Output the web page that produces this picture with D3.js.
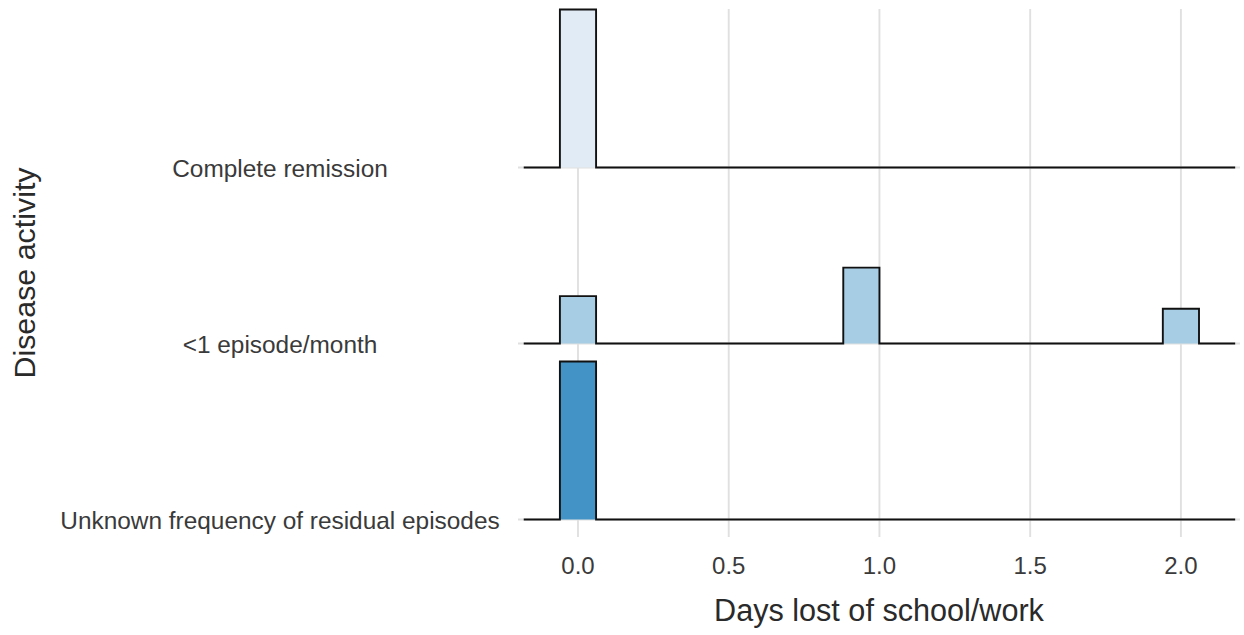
<!DOCTYPE html>
<html>
<head>
<meta charset="utf-8">
<script src="https://cdn.jsdelivr.net/npm/d3@7"></script>
<style>
  html, body { margin: 0; padding: 0; background: #fff; }
  svg { display: block; font-family: "Liberation Sans", Arial, Helvetica, sans-serif; }
</style>
</head>
<body>
<svg id="chart" width="1244" height="635"></svg>
<script>
// Disease activity groups, top to bottom
const categories = ["Complete remission", "<1 episode/month", "Unknown frequency of residual episodes"];
const fills = ["#e1ebf6", "#a6cde3", "#4493c6"];

// Histogram bins per group: bin start, bin end, share of the group
const binStart = [[-0.06], [-0.06, 0.88, 1.94], [-0.06]];
const binEnd   = [[0.06],  [0.06, 1.00, 2.06],  [0.06]];
const binShare = [[1.0],   [0.30, 0.48, 0.22],  [1.0]];

// Padded extent of the binned outline
const outlineRange = [-0.18, 2.18];

const xTicks = [0, 0.5, 1, 1.5, 2];
const xTitle = "Days lost of school/work";
const yTitle = "Disease activity";

const svg = d3.select("#chart");
const panel = { left: 518, right: 1240, top: 9, bottom: 537 };

const x = d3.scaleLinear().domain([-0.199, 2.196]).range([panel.left, panel.right]);
const y = d3.scalePoint().domain(categories).range([167.5, 519.5]);
const h = d3.scaleLinear().domain([0, 1]).range([0, 158]);

// vertical grid
svg.append("g").selectAll("line").data(xTicks).join("line")
  .attr("x1", d => x(d)).attr("x2", d => x(d))
  .attr("y1", panel.top).attr("y2", panel.bottom)
  .attr("stroke", "#e0e0e0").attr("stroke-width", 1.9);

// horizontal grid at each baseline
svg.append("g").selectAll("line").data(categories).join("line")
  .attr("x1", panel.left).attr("x2", panel.right)
  .attr("y1", d => y(d)).attr("y2", d => y(d))
  .attr("stroke", "#e0e0e0").attr("stroke-width", 1.9);

// ridges: drawn from the top row down so lower rows sit in front
categories.forEach((cat, i) => {
  const base = y(cat);
  const bins = binStart[i].map((s, j) => ({ x0: s, x1: binEnd[i][j], v: binShare[i][j] }));
  const g = svg.append("g");

  g.selectAll("rect").data(bins).join("rect")
    .attr("x", d => x(d.x0))
    .attr("width", d => x(d.x1) - x(d.x0))
    .attr("y", d => base - h(d.v))
    .attr("height", d => h(d.v))
    .attr("fill", fills[i]);

  // step outline along the baseline
  const pts = [[outlineRange[0], 0]];
  bins.forEach(b => {
    pts.push([b.x0, 0], [b.x0, b.v], [b.x1, b.v], [b.x1, 0]);
  });
  pts.push([outlineRange[1], 0]);
  const line = d3.line().x(p => x(p[0])).y(p => base - h(p[1]));
  g.append("path").attr("d", line(pts))
    .attr("fill", "none").attr("stroke", "#111").attr("stroke-width", 1.9)
    .attr("stroke-linejoin", "miter");
});

// x tick labels
svg.append("g").selectAll("text").data(xTicks).join("text")
  .attr("x", d => x(d)).attr("y", 574)
  .attr("text-anchor", "middle")
  .attr("font-size", 24).attr("fill", "#3a3a3a")
  .text(d3.format(".1f"));

// y category labels
svg.append("g").selectAll("text").data(categories).join("text")
  .attr("x", 280).attr("y", d => y(d) + 9)
  .attr("text-anchor", "middle")
  .attr("font-size", 24.4).attr("fill", "#3a3a3a")
  .text(d => d);

// axis titles
svg.append("text")
  .attr("x", (panel.left + panel.right) / 2).attr("y", 621)
  .attr("text-anchor", "middle").attr("font-size", 30.6).attr("fill", "#2a2a2a")
  .text(xTitle);

svg.append("text")
  .attr("transform", `translate(35,${(panel.top + panel.bottom) / 2}) rotate(-90)`)
  .attr("text-anchor", "middle").attr("font-size", 30.4).attr("fill", "#2a2a2a")
  .text(yTitle);
</script>
</body>
</html>
